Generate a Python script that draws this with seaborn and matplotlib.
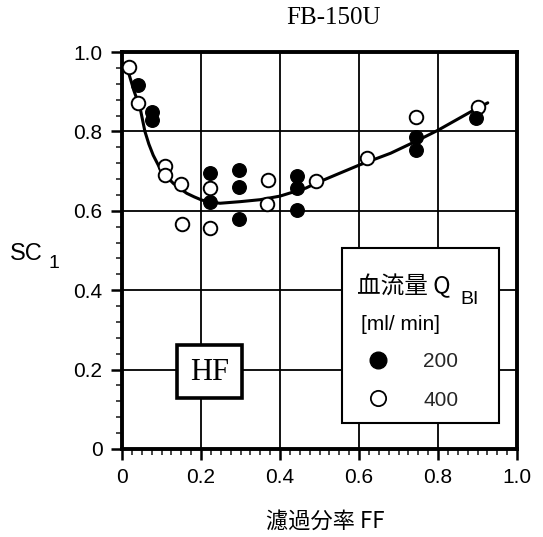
import numpy as np
import pandas as pd
import matplotlib
matplotlib.use("Agg")
import matplotlib.pyplot as plt
import seaborn as sns
from matplotlib.patches import Rectangle
from matplotlib.ticker import MultipleLocator, FixedLocator, FixedFormatter
from matplotlib.lines import Line2D

# ---- data ----
ff_200 = [0.041, 0.075, 0.075, 0.224, 0.224, 0.297, 0.297, 0.297, 0.444, 0.444, 0.444, 0.745, 0.745, 0.896]
sc_200 = [0.918, 0.850, 0.829, 0.694, 0.621, 0.703, 0.661, 0.579, 0.688, 0.658, 0.602, 0.787, 0.753, 0.834]
ff_400 = [0.018, 0.041, 0.110, 0.108, 0.150, 0.152, 0.224, 0.224, 0.370, 0.367, 0.490, 0.621, 0.745, 0.900]
sc_400 = [0.963, 0.871, 0.714, 0.690, 0.667, 0.566, 0.658, 0.556, 0.677, 0.617, 0.675, 0.732, 0.837, 0.862]
curve_ff = [0.012, 0.016, 0.030, 0.046, 0.058, 0.068, 0.079, 0.096, 0.113, 0.130, 0.147, 0.164,
            0.183, 0.202, 0.225, 0.248, 0.299, 0.350, 0.400, 0.465, 0.490, 0.540, 0.600, 0.680,
            0.750, 0.800, 0.884, 0.926]
curve_sc = [0.958, 0.950, 0.903, 0.858, 0.800, 0.768, 0.740, 0.707, 0.686, 0.669, 0.656, 0.644,
            0.635, 0.627, 0.622, 0.619, 0.623, 0.628, 0.637, 0.657, 0.669, 0.690, 0.715, 0.745,
            0.778, 0.803, 0.850, 0.872]
tick_vals = [0, 0.2, 0.4, 0.6, 0.8, 1.0]
tick_labels = ["0", "0.2", "0.4", "0.6", "0.8", "1.0"]
groups = ["200", "400"]

df = pd.concat([
    pd.DataFrame({"FF": ff_200, "SC": sc_200, "Q": groups[0]}),
    pd.DataFrame({"FF": ff_400, "SC": sc_400, "Q": groups[1]}),
])
curve = pd.DataFrame({"FF": curve_ff, "SC": curve_sc})

sns.set_theme(style="white")
plt.rcParams["font.family"] = ["Liberation Sans", "Noto Sans CJK JP", "DejaVu Sans"]

W, H = 543, 537
L, R, T, B = 122, 517, 52, 449
fig = plt.figure(figsize=(W/100, H/100), dpi=100)
ax = fig.add_axes([L/W, 1-B/H, (R-L)/W, (B-T)/H])

def dx(px):
    return (px - L) / (R - L)

def dy(py):
    return (B - py) / (B - T)

sns.lineplot(data=curve, x="FF", y="SC", ax=ax, color="black", lw=2.2, sort=False, zorder=3)
sns.scatterplot(data=df[df.Q == "400"], x="FF", y="SC", ax=ax, s=95, color="white",
                edgecolor="black", linewidth=1.4, zorder=4, legend=False)
sns.scatterplot(data=df[df.Q == "200"], x="FF", y="SC", ax=ax, s=95, color="black",
                edgecolor="black", linewidth=1.0, zorder=5, legend=False)

ax.set_xlim(0, 1.0)
ax.set_ylim(0, 1.0)
ax.xaxis.set_major_locator(FixedLocator(tick_vals))
ax.xaxis.set_major_formatter(FixedFormatter(tick_labels))
ax.yaxis.set_major_locator(FixedLocator(tick_vals))
ax.yaxis.set_major_formatter(FixedFormatter(tick_labels))
ax.xaxis.set_minor_locator(MultipleLocator(0.025))
ax.yaxis.set_minor_locator(MultipleLocator(0.04))
ax.grid(True, which="major", color="black", lw=1.3)
ax.set_axisbelow(True)
for s in ax.spines.values():
    s.set_visible(True)
    s.set_color("black")
    s.set_linewidth(2.8)
ax.tick_params(which="major", direction="out", length=8, width=1.8, labelsize=15,
               colors="black", pad=6, bottom=True, left=True)
ax.tick_params(which="minor", direction="out", length=4, width=1.2, bottom=True, left=True)
ax.set_xlabel("")
ax.set_ylabel("")

# title
fig.text(333/W, 1-18/H, "FB-150U", ha="center", va="center",
         family="Liberation Serif", fontsize=18, color="black")
# y label with subscript
fig.text(10/W, 1-254/H, "SC", ha="left", va="center", fontsize=17, color="black")
fig.text(49/W, 1-264/H, "1", ha="left", va="center", fontsize=14, color="black")
# x label
fig.text(325/W, 1-521/H, "濾過分率 FF", ha="center", va="center",
         family=["Noto Sans CJK JP", "DejaVu Sans"], fontsize=16, color="black")

# HF box
ax.add_patch(Rectangle((dx(177), dy(398)), dx(242)-dx(177), dy(345)-dy(398),
                       transform=ax.transData, fc="white", ec="black", lw=2.6, zorder=6))
ax.text(dx(209.5), dy(372), "HF", transform=ax.transData, ha="center", va="center",
        family="Liberation Serif", fontsize=22, color="black", zorder=7)

# legend box
ax.add_patch(Rectangle((dx(342), dy(423)), dx(499)-dx(342), dy(248)-dy(423),
                       transform=ax.transData, fc="white", ec="black", lw=1.5, zorder=6))
ax.text(dx(357), dy(286), "血流量 Q", transform=ax.transData,
        ha="left", va="center", fontsize=17, family=["Noto Sans CJK JP", "DejaVu Sans"],
        color="black", zorder=7)
ax.text(dx(460), dy(299), "BI", transform=ax.transData,
        ha="left", va="center", fontsize=14, color="black", zorder=7)
ax.text(dx(361), dy(325), "[ml/ min]", transform=ax.transData,
        ha="left", va="center", fontsize=15, color="black", zorder=7)
handles = [Line2D([], [], marker="o", ls="", ms=12, mfc="black", mec="black"),
           Line2D([], [], marker="o", ls="", ms=11, mfc="white", mec="black", mew=1.3)]
leg = ax.legend(handles, groups, loc="upper left", frameon=False,
                bbox_to_anchor=(dx(363), dy(352)), bbox_transform=ax.transData,
                fontsize=15, handletextpad=1.5, labelspacing=0.95, borderpad=0,
                borderaxespad=0, handlelength=1.4)
leg.set_zorder(8)

fig.savefig("out.png", dpi=100)
